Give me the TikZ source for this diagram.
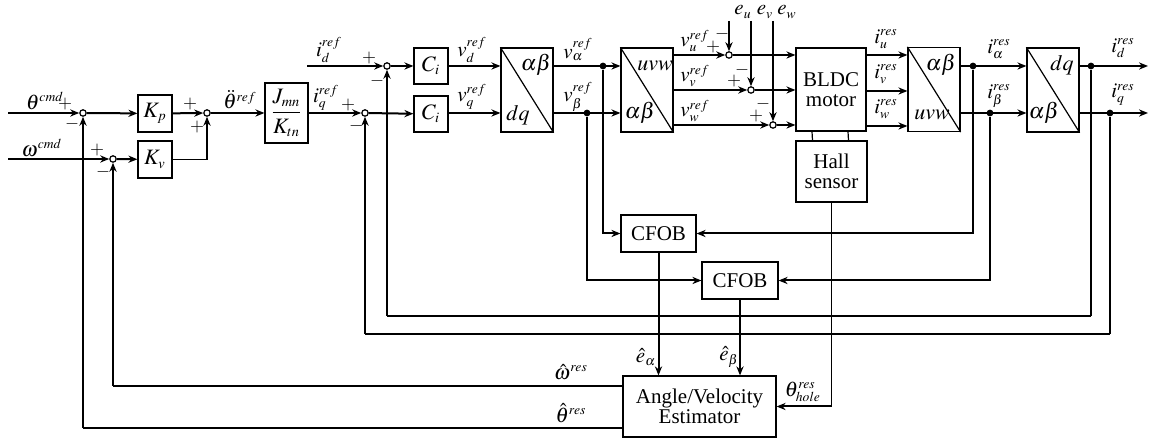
\documentclass[tikz,border=0pt]{standalone}
\usepackage{mathptmx}
\usepackage{fontspec}
\setmainfont{Liberation Serif}
\DeclareMathSizes{10.5}{10.5}{6.8}{5}
\DeclareMathSizes{11}{11}{7.2}{5}
\usetikzlibrary{arrows.meta,calc}
\begin{document}
\begin{tikzpicture}[x=0.5pt,y=-0.5pt,
  box/.style={draw, line width=0.6pt, inner sep=0pt, align=center, font=\fontsize{11}{12}\selectfont},
  tbox/.style={draw, line width=0.6pt, inner sep=0pt, align=center, font=\fontsize{10.5}{12}\selectfont},
  sig/.style={line width=1pt, -{Stealth[length=4.5pt,width=3.6pt]}},
  tsig/.style={line width=0.6pt, -{Stealth[length=4.5pt,width=3.6pt]}},
  ln/.style={line width=1pt},
  fb/.style={line width=0.6pt},
  sumc/.style={circle, draw, line width=0.6pt, fill=white, minimum size=3.2pt, inner sep=0pt},
  dotc/.style={circle, fill, minimum size=3.4pt, inner sep=0pt},
  lab/.style={font=\fontsize{10.5}{12}\selectfont, inner sep=0pt},
  sgn/.style={font=\fontsize{9}{10}\selectfont, inner sep=0pt}]
\useasboundingbox (0,0) rectangle (1163,442);

% ---------- blocks ----------
\node[box, minimum width=17pt, minimum height=18.5pt] (Kp) at (155,113.5) {$K_p$};
\node[box, minimum width=17pt, minimum height=18.5pt] (Kv) at (155,159.5) {$K_v$};
\node[box, minimum width=21.5pt, minimum height=30pt] (J) at (286.5,113) {$\displaystyle\frac{J_{mn}}{K_{tn}}$};
\node[box, minimum width=17pt, minimum height=18pt] (Cid) at (431,66) {$C_i$};
\node[box, minimum width=17pt, minimum height=18pt] (Ciq) at (431,114) {$C_i$};
\node[box, minimum width=26pt, minimum height=42pt] (T1) at (527,90) {};
\node[box, minimum width=26pt, minimum height=42pt] (T2) at (647,90) {};
\node[tbox, minimum width=35pt, minimum height=41.5pt] (M) at (831,89.5) {BLDC\\[-2pt]motor};
\node[tbox, minimum width=35.5pt, minimum height=30.5pt] (H) at (831.5,171.5) {Hall\\[-2pt]sensor};
\node[box, minimum width=26pt, minimum height=42pt] (T3) at (934,89.5) {};
\node[box, minimum width=26pt, minimum height=42pt] (T4) at (1053,90) {};
\node[tbox, minimum width=37.5pt, minimum height=18.5pt] (C1) at (658.5,233.5) {CFOB};
\node[tbox, minimum width=38pt, minimum height=18.5pt] (C2) at (740,280.5) {CFOB};
\node[tbox, minimum width=76.5pt, minimum height=30.5pt] (E) at (699.5,406.5) {Angle/Velocity\\[-2pt]Estimator};

\foreach \b in {T1,T2,T3,T4} \draw[line width=0.6pt] (\b.north west) -- (\b.south east);
\node[box, draw=none] at (536,65) {$\alpha\beta$};
\node[box, draw=none] at (518,115) {$dq$};
\node[box, draw=none] at (655,66) {$uvw$};
\node[box, draw=none] at (640,113) {$\alpha\beta$};
\node[box, draw=none] at (941,65) {$\alpha\beta$};
\node[box, draw=none] at (932,115) {$uvw$};
\node[box, draw=none] at (1062,65) {$dq$};
\node[box, draw=none] at (1044,113) {$\alpha\beta$};

% ---------- summing points and taps ----------
\node[sumc] (sth) at (83,113) {};
\node[sumc] (som) at (113,159) {};
\node[sumc] (s2) at (207,113) {};
\node[sumc] (sd) at (387,66) {};
\node[sumc] (sq) at (365,113) {};
\node[sumc] (su) at (729,55) {};
\node[sumc] (sv) at (751,90) {};
\node[sumc] (sw) at (773,125) {};
\node[dotc] (da) at (603,66) {};
\node[dotc] (db) at (587,113) {};
\node[dotc] (dia) at (973,66) {};
\node[dotc] (dib) at (990,113) {};
\node[dotc] (did) at (1091,66) {};
\node[dotc] (diq) at (1110,113) {};

\coordinate (thin) at (8,113);
\coordinate (win) at (8,159);
\coordinate (idin) at (307,66);
\coordinate (eu) at (729,21);
\coordinate (ev) at (751,21);
\coordinate (ew) at (773,21);
\coordinate (odo) at (1148,66);
\coordinate (oqo) at (1148,113);
\coordinate (fd) at (387,316);
\coordinate (fq) at (365,334);
\coordinate (fw) at (113,386);
\coordinate (ft) at (83,428);

% ---------- forward path ----------
\draw[sig] (thin) -- (sth);
\draw[sig] (sth) -- (Kp);
\draw[sig] (Kp) -- (s2);
\draw[sig] (s2) -- (J);
\draw[sig] (win) -- (som);
\draw[sig] (som) -- (Kv);
\draw[tsig] (Kv.east) -| (s2.south);
\draw[sig] (J.east |- sq) -- (sq);
\draw[sig] (idin) -- (sd);
\draw[sig] (sd) -- (Cid);
\draw[sig] (sq) -- (Ciq);
\draw[sig] (Cid) -- (Cid -| T1.west);
\draw[sig] (Ciq.east |- sq) -- (T1.west |- sq);
\draw[sig] (T1.east |- sd) -- (T2.west |- sd);
\draw[sig] (T1.east |- sq) -- (T2.west |- sq);
\draw[sig] (T2.east |- su) -- (su);
\draw[sig] (T2.east |- sv) -- (sv);
\draw[sig] (T2.east |- sw) -- (sw);
\draw[sig] (eu) -- (su);
\draw[sig] (ev) -- (sv);
\draw[sig] (ew) -- (sw);
\draw[sig] (su) -- (su -| M.west);
\draw[sig] (sv) -- (sv -| M.west);
\draw[sig] (sw) -- (sw -| M.west);
\draw[sig] (M.east |- su) -- (T3.west |- su);
\draw[sig] (M.east |- 0,91) -- (T3.west |- 0,91);
\draw[sig] (M.east |- 0,126) -- (T3.west |- 0,126);
\draw[sig] (T3.east |- sd) -- (T4.west |- sd);
\draw[sig] (T3.east |- sq) -- (T4.west |- sq);
\draw[sig] (T4.east |- sd) -- (odo);
\draw[sig] (T4.east |- sq) -- (oqo);
\draw[fb] ([xshift=-9.5pt]M.south) -- ([xshift=-9.5pt]H.north);
\draw[fb] ([xshift=8.5pt]M.south) -- ([xshift=8.5pt]H.north);

% ---------- observers ----------
\draw[sig] (da) |- (C1.west);
\draw[sig] (db) |- (C2.west);
\draw[sig] (dia) |- (C1.east);
\draw[sig] (dib) |- (C2.east);
\draw[sig] (C1.south) -- (C1.south |- E.north);
\draw[sig] (C2.south) -- (C2.south |- E.north);
\draw[fb] (H.south) -- (H.south |- E.east);
\draw[sig] (H.south |- E.east) -- (E.east);

% ---------- feedback ----------
\draw[ln] (did) -- (did |- fd);
\draw[fb] (did |- fd) -- (fd);
\draw[sig] (fd) -- (sd);
\draw[ln] (diq) -- (diq |- fq);
\draw[fb] (diq |- fq) -- (fq);
\draw[sig] (fq) -- (sq);
\draw[fb] (E.west |- fw) -- (fw);
\draw[sig] (fw) -- (som);
\draw[fb] (E.west |- ft) -- (ft);
\draw[sig] (ft) -- (sth);

% ---------- labels ----------
\node[lab] at (45,101) {$\theta^{cmd}$};
\node[lab] at (42,148) {$\omega^{cmd}$};
\node[lab] at (240,100) {$\ddot{\theta}^{ref}$};
\node[lab] at (329,50) {$i_d^{ref}$};
\node[lab] at (326,98) {$i_q^{ref}$};
\node[lab] at (472,50) {$v_d^{ref}$};
\node[lab] at (472,97) {$v_q^{ref}$};
\node[lab] at (578,50) {$v_\alpha^{ref}$};
\node[lab] at (578,97) {$v_\beta^{ref}$};
\node[lab] at (695,41) {$v_u^{ref}$};
\node[lab] at (695,76) {$v_v^{ref}$};
\node[lab] at (695,111) {$v_w^{ref}$};
\node[lab] at (743,12) {$e_u$};
\node[lab] at (765,12) {$e_v$};
\node[lab] at (787,12) {$e_w$};
\node[lab] at (886,39) {$i_u^{res}$};
\node[lab] at (886,74) {$i_v^{res}$};
\node[lab] at (886,109) {$i_w^{res}$};
\node[lab] at (999,49) {$i_\alpha^{res}$};
\node[lab] at (999,96) {$i_\beta^{res}$};
\node[lab] at (1123,48) {$i_d^{res}$};
\node[lab] at (1123,95) {$i_q^{res}$};
\node[lab] at (646,357) {$\hat{e}_\alpha$};
\node[lab] at (729,357) {$\hat{e}_\beta$};
\node[lab] at (571,372) {$\hat{\omega}^{res}$};
\node[lab] at (571,413) {$\hat{\theta}^{res}$};
\node[lab] at (803,392) {$\theta_{hole}^{res}$};

% signs
\node[sgn] at (65,104) {$+$};
\node[sgn] at (72,124) {$-$};
\node[sgn] at (97,150) {$+$};
\node[sgn] at (103,172) {$-$};
\node[sgn] at (190,104) {$+$};
\node[sgn] at (197,127) {$+$};
\node[sgn] at (369,58) {$+$};
\node[sgn] at (377,81) {$-$};
\node[sgn] at (348,105) {$+$};
\node[sgn] at (356,126) {$-$};
\node[sgn] at (722,34) {$-$};
\node[sgn] at (713,47) {$+$};
\node[sgn] at (742,70) {$-$};
\node[sgn] at (734,81) {$+$};
\node[sgn] at (763,104) {$-$};
\node[sgn] at (756,116) {$+$};
\end{tikzpicture}
\end{document}
